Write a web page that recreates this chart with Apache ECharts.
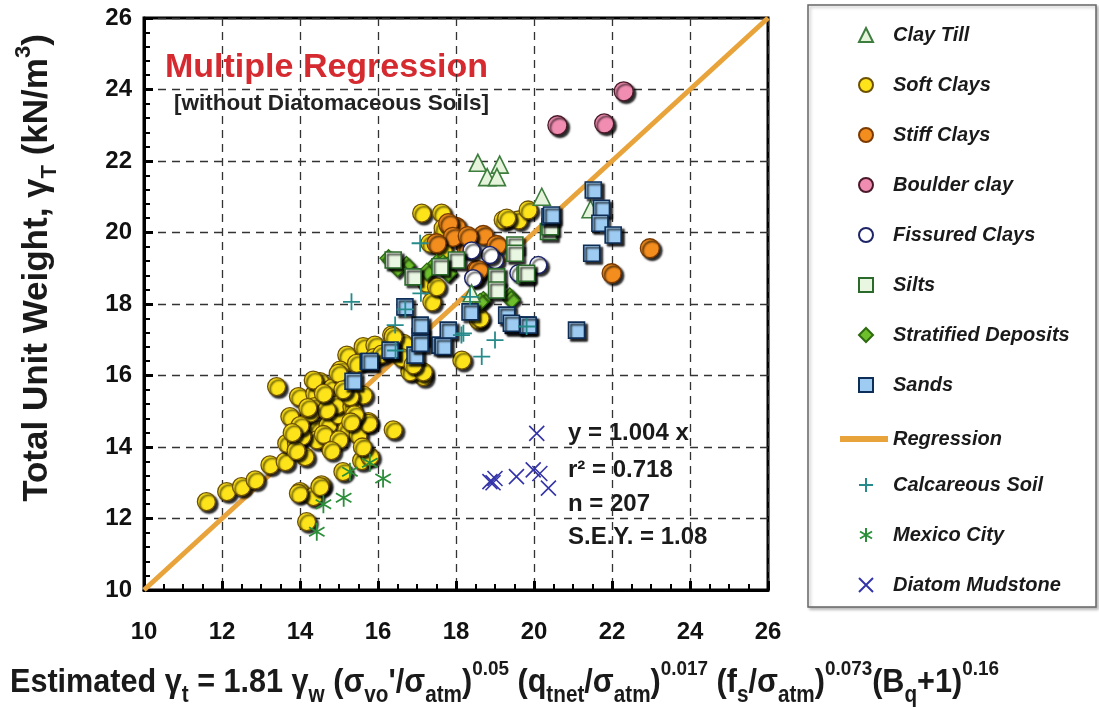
<!DOCTYPE html>
<html>
<head>
<meta charset="utf-8">
<script src="https://cdn.jsdelivr.net/npm/echarts@6/dist/echarts.min.js"></script>
<style>
	html, body { margin: 0; padding: 0; background: #fff; }
	#chart { width: 1099px; height: 708px; }
</style>
</head>
<body>
<div id="chart"></div>
<script>
// axis ticks
let axisMin = 10;
let axisMax = 26;
let axisStep = 2;

// regression y = 1.004 x
let regressionLine = [[10, 10], [26, 26]];

let clayTill = [[18.56, 21.95], [19.12, 21.9], [18.8, 21.55], [19.05, 21.55], [20.2, 21.0], [21.45, 20.65], [18.4, 18.3]];

let softClays = [
	[11.6, 12.47], [12.12, 12.75], [12.5, 12.89], [12.85, 13.08], [13.23, 13.5], [13.62, 13.59], [13.4, 15.69], [13.96, 15.41],
	[13.74, 14.85], [13.66, 14.1], [13.91, 14.1], [14.17, 14.48], [14.47, 14.48], [14.13, 13.73], [14.38, 15.5], [14.38, 15.13],
	[14.51, 15.83], [14.81, 15.64], [14.72, 14.62], [14.72, 14.06], [14.98, 14.9], [14.94, 15.18], [15.2, 16.57], [15.03, 16.15],
	[15.33, 15.13], [15.2, 14.48], [15.49, 14.34], [15.75, 14.71], [15.62, 15.45], [15.62, 16.81], [15.92, 16.85], [16.35, 17.13],
	[16.39, 14.48], [14.0, 12.75], [14.34, 12.61], [14.55, 12.94], [14.17, 11.91], [15.1, 13.31], [15.58, 13.62], [15.79, 13.73],
	[14.26, 14.95], [14.68, 15.04], [14.34, 15.87], [15.28, 15.41], [14.43, 14.2], [14.98, 16.06], [15.45, 16.34], [16.65, 16.9],
	[16.82, 16.15], [17.16, 15.97], [17.25, 18.58], [17.38, 18.06], [17.33, 19.7], [17.67, 19.51], [18.15, 16.43], [17.67, 19.98],
	[17.12, 20.54], [17.63, 20.54], [17.67, 20.12], [17.5, 18.48], [19.21, 20.35], [19.6, 20.35], [19.85, 20.63], [18.57, 17.55],
	[16.82, 16.1], [17.16, 16.1], [16.39, 17.09], [19.3, 20.4], [18.62, 17.6], [15.75, 14.66], [13.96, 12.7], [14.51, 12.89],
	[14.05, 14.3], [14.6, 14.35], [15.0, 14.2], [15.4, 14.9], [15.1, 15.6], [14.2, 15.1], [14.0, 14.6], [13.9, 13.9],
	[14.8, 13.9], [15.9, 16.5], [16.1, 16.6], [16.6, 16.5], [15.3, 14.7], [15.6, 14.0], [13.8, 14.4], [14.6, 15.5],
	[17.8, 20.2], [16.9, 16.3]
];

let stiffClays = [[18.0, 20.16], [18.7, 19.93], [18.27, 19.56], [19.04, 19.65], [17.8, 20.26], [18.53, 18.95], [18.49, 18.76],
	[17.92, 19.88], [18.57, 18.95], [22.97, 19.56], [21.99, 18.86], [18.3, 19.9], [17.5, 19.7]];

let boulderClay = [[20.6, 23.0], [21.8, 23.05], [22.3, 23.95]];

let fissuredClays = [[18.44, 18.72], [19.0, 19.23], [20.11, 19.09], [18.87, 19.37], [19.6, 18.86], [18.4, 19.5]];

let silts = [[16.39, 19.23], [16.9, 18.76], [18.01, 19.23], [19.51, 19.65], [19.51, 19.42], [19.04, 18.76], [19.04, 18.39],
	[19.77, 18.81], [20.37, 20.03], [17.59, 19.04], [20.41, 20.16], [19.81, 18.86]];

let stratified = [[16.27, 19.28], [16.73, 19.09], [17.25, 18.9], [17.76, 18.9], [17.5, 19.14], [17.67, 19.14], [17.8, 18.86],
	[19.38, 18.21], [18.7, 18.11], [19.42, 18.11], [18.62, 18.06], [16.5, 19.0]];

let sands = [[15.36, 15.84], [15.75, 16.39], [16.35, 16.67], [16.95, 16.57], [17.08, 17.09], [17.08, 17.41], [17.59, 16.85],
	[17.8, 17.27], [16.69, 17.92], [16.31, 16.71], [15.79, 16.39], [18.36, 17.78], [19.3, 17.69], [19.47, 17.41], [19.81, 17.41],
	[20.41, 20.44], [21.52, 21.19], [21.73, 20.68], [21.69, 20.26], [22.03, 19.93], [21.48, 19.42], [21.09, 17.27], [20.45, 20.49],
	[19.42, 17.46], [19.85, 17.41], [17.67, 16.81], [17.08, 16.9]];

let calcareous = [[15.32, 18.06], [17.08, 19.7], [16.44, 17.41], [18.19, 17.18], [19.0, 16.99], [18.66, 16.53], [18.36, 18.2],
	[19.81, 17.37], [18.14, 17.13], [16.7, 17.85], [17.1, 18.3], [16.45, 16.7]];

let mexicoCity = [[14.43, 11.63], [14.6, 12.4], [15.12, 12.58], [15.28, 13.31], [15.79, 13.56], [16.13, 13.12]];

let diatom = [[20.07, 14.38], [18.87, 13.03], [19.0, 13.12], [18.95, 13.0], [19.55, 13.17], [19.98, 13.36], [20.15, 13.26], [20.37, 12.85]];

let legendTop = ['Clay Till', 'Soft Clays', 'Stiff Clays', 'Boulder clay', 'Fissured Clays', 'Silts', 'Stratified Deposits', 'Sands'];
let legendBottom = ['Calcareous Soil', 'Mexico City', 'Diatom Mudstone'];

let sans = '"Liberation Sans", Arial, sans-serif';

let shadow = { shadowColor: 'rgba(0,0,0,0.85)', shadowBlur: 2, shadowOffsetX: 2.5, shadowOffsetY: 2.5 };

function markSeries(name, data, symbol, size, fill, border, borderWidth, withShadow) {
	let style = { color: fill, borderColor: border, borderWidth: borderWidth, opacity: 1 };
	if (withShadow) {
		Object.assign(style, shadow);
	}
	return {
		name: name,
		type: 'scatter',
		data: data,
		symbol: symbol,
		symbolSize: size,
		symbolKeepAspect: true,
		itemStyle: style,
		z: 3,
		emphasis: { disabled: true }
	};
}

let plusPath = 'path://M0,5L10,5M5,0L5,10';
let starPath = 'path://M5,0L5,10M0.7,2.5L9.3,7.5M0.7,7.5L9.3,2.5';
let crossPath = 'path://M0,0L10,10M10,0L0,10';

let legendText = { fontSize: 20, lineHeight: 20, fontStyle: 'italic', fontWeight: 'bold', color: '#1a1a1a', fontFamily: sans, padding: [0, 0, 0, 15] };
let noShadow = { shadowBlur: 0, shadowOffsetX: 0, shadowOffsetY: 0, shadowColor: 'transparent' };

function makeLegend(names, top) {
	return {
		orient: 'vertical',
		left: 858,
		top: top,
		padding: 0,
		itemWidth: 14,
		itemHeight: 14,
		itemGap: 30,
		selectedMode: false,
		symbolKeepAspect: true,
		itemStyle: noShadow,
		textStyle: legendText,
		data: names
	};
}

let option = {
	animation: false,
	backgroundColor: '#fff',
	grid: {
		left: 144,
		top: 18,
		right: 331,
		bottom: 118,
		show: true,
		borderColor: '#000',
		borderWidth: 3
	},
	xAxis: {
		type: 'value',
		min: axisMin,
		max: axisMax,
		interval: axisStep,
		axisLine: { lineStyle: { color: '#000', width: 3 } },
		axisTick: { inside: true, length: 9, lineStyle: { color: '#000', width: 3 } },
		minorTick: { show: true, splitNumber: 4, length: 6, lineStyle: { color: '#000', width: 2 } },
		axisLabel: { margin: 30, color: '#111', fontSize: 24, fontWeight: 'bold', fontFamily: sans },
		splitLine: { show: true, lineStyle: { color: '#333', width: 1.3, type: [8, 6] } }
	},
	yAxis: {
		type: 'value',
		min: axisMin,
		max: axisMax,
		interval: axisStep,
		axisLine: { lineStyle: { color: '#000', width: 3 } },
		axisTick: { inside: true, length: 9, lineStyle: { color: '#000', width: 3 } },
		minorTick: { show: true, splitNumber: 5, length: 6, lineStyle: { color: '#000', width: 2 } },
		axisLabel: { margin: 12, color: '#111', fontSize: 24, fontWeight: 'bold', fontFamily: sans },
		splitLine: { show: true, lineStyle: { color: '#333', width: 1.3, type: [8, 6] } }
	},
	legend: [
		makeLegend(legendTop, 25),
		{
			orient: 'vertical',
			left: 840,
			top: 429,
			padding: 0,
			itemWidth: 48,
			itemHeight: 6,
			selectedMode: false,
			textStyle: { fontSize: 20, lineHeight: 20, fontStyle: 'italic', fontWeight: 'bold', color: '#1a1a1a', fontFamily: sans },
			data: [{ name: 'Regression', icon: 'rect' }]
		},
		makeLegend(legendBottom, 475)
	],
	series: [
		{
			name: 'Regression',
			type: 'line',
			data: regressionLine,
			symbol: 'none',
			z: 1,
			lineStyle: { color: '#e8a33a', width: 5 },
			itemStyle: { color: '#e8a33a' },
			emphasis: { disabled: true }
		},
		markSeries('Soft Clays', softClays, 'circle', 18, '#fde31a', '#6e5000', 1.3, true),
		markSeries('Stiff Clays', stiffClays, 'circle', 19, '#f38d1e', '#7a3a00', 1.3, true),
		markSeries('Boulder clay', boulderClay, 'circle', 19, '#f28db2', '#4a1a2a', 1.3, true),
		markSeries('Fissured Clays', fissuredClays, 'circle', 17, '#ffffff', '#1d2468', 1.5, true),
		markSeries('Stratified Deposits', stratified, 'diamond', 17, '#6dbf2c', '#2e6a10', 1.3, true),
		markSeries('Silts', silts, 'rect', 16, '#e9f7e2', '#2b6a2b', 1.6, true),
		markSeries('Clay Till', clayTill, 'triangle', 17, '#e6f4dc', '#3d7d3d', 1.6, false),
		markSeries('Sands', sands, 'rect', 16, '#9dcbf2', '#0e2e58', 1.6, true),
		markSeries('Calcareous Soil', calcareous, plusPath, 17, 'rgba(0,0,0,0)', '#278b8b', 1.8, false),
		markSeries('Mexico City', mexicoCity, starPath, 18, 'rgba(0,0,0,0)', '#2b8f3a', 1.8, false),
		markSeries('Diatom Mudstone', diatom, crossPath, 15, 'rgba(0,0,0,0)', '#3434aa', 1.6, false)
	],
	graphic: [
		{
			type: 'rect',
			z: -1,
			shape: { x: 808, y: 5, width: 288, height: 602 },
			style: { fill: '#fff', stroke: '#666', lineWidth: 1.5, shadowColor: 'rgba(0,0,0,0.25)', shadowBlur: 3, shadowOffsetX: 2, shadowOffsetY: 2 }
		},
		{
			type: 'text',
			x: 165,
			y: 68,
			style: { text: 'Multiple Regression', font: 'bold 34px ' + sans, fill: '#d42a30', verticalAlign: 'middle' }
		},
		{
			type: 'text',
			x: 174,
			y: 104,
			style: { text: '[without Diatomaceous Soils]', font: 'bold 22.5px ' + sans, fill: '#222', verticalAlign: 'middle' }
		},
		{
			type: 'text',
			x: 568,
			y: 433,
			style: { text: 'y = 1.004 x', font: 'bold 24px ' + sans, fill: '#1a1a1a', verticalAlign: 'middle' }
		},
		{
			type: 'text',
			x: 568,
			y: 470,
			style: { text: 'r² = 0.718', font: 'bold 24px ' + sans, fill: '#1a1a1a', verticalAlign: 'middle' }
		},
		{
			type: 'text',
			x: 568,
			y: 504,
			style: { text: 'n = 207', font: 'bold 24px ' + sans, fill: '#1a1a1a', verticalAlign: 'middle' }
		},
		{
			type: 'text',
			x: 568,
			y: 537,
			style: { text: 'S.E.Y. = 1.08', font: 'bold 24px ' + sans, fill: '#1a1a1a', verticalAlign: 'middle' }
		},
		{
			type: 'text',
			x: 37,
			y: 268,
			rotation: Math.PI / 2,
			style: {
				text: 'Total Unit Weight, γ{sub|T} (kN/m{sup|3})',
				font: 'bold 35px ' + sans,
				fill: '#1a1a1a',
				lineHeight: 48,
				align: 'center',
				verticalAlign: 'middle',
				rich: {
					sub: { fontSize: 22, lineHeight: 28, verticalAlign: 'bottom', fontWeight: 'bold', fontFamily: sans },
					sup: { fontSize: 22, lineHeight: 22, verticalAlign: 'top', fontWeight: 'bold', fontFamily: sans }
				}
			}
		},
		{
			type: 'text',
			x: 10,
			y: 683,
			scaleX: 0.9,
			style: {
				text: 'Estimated γ{sub|t} = 1.81 γ{sub|w} (σ{sub|vo}\'/σ{sub|atm}){sup|0.05} (q{sub|tnet}/σ{sub|atm}){sup|0.017} (f{sub|s}/σ{sub|atm}){sup|0.073}(B{sub|q}+1){sup|0.16}',
				font: 'bold 34px ' + sans,
				fill: '#1a1a1a',
				lineHeight: 48,
				verticalAlign: 'middle',
				rich: {
					sub: { fontSize: 23, lineHeight: 26, verticalAlign: 'bottom', fontWeight: 'bold', fontFamily: sans },
					sup: { fontSize: 21, lineHeight: 20, verticalAlign: 'top', fontWeight: 'bold', fontFamily: sans }
				}
			}
		}
	]
};

let myChart = echarts.init(document.getElementById('chart'));
myChart.setOption(option);
</script>
</body>
</html>
